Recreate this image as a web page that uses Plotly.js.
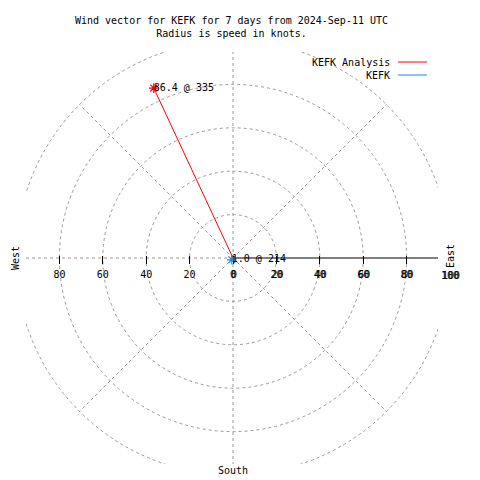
<!DOCTYPE html>
<html><head><meta charset="utf-8">
<script src="https://cdn.plot.ly/plotly-3.0.1.min.js"></script>
<style>html,body{margin:0;padding:0;background:#fff}#chart{width:480px;height:480px}</style>
</head><body><div id="chart"></div>
<script>
// ---- data ----
const seriesNames = ['KEFK Analysis', 'KEFK'];
const speeds = [86.4, 1.0];          // knots
const directions = [335, 214];       // degrees (compass)
const seriesColors = ['#ff0000', '#1e84f0'];
const ringValues = [20, 40, 60, 80, 100];
const spokeAngles = [0, 45, 135, 180, 225, 270, 315];
const axisAngle = 90;
const tickValues = [-80, -60, -40, -20, 0, 20, 40, 60, 80];
const tickLabels = ['80', '60', '40', '20', '0', '20', '40', '60', '80'];
const ghostTickValues = [0, 20, 40, 60, 80];
const ghostTickLabels = ['0', '20', '40', '60', '80'];
const extraTickValue = 100;
const extraTickLabel = '100';
const titleLines = ['Wind vector for KEFK for 7 days from 2024-Sep-11 UTC', 'Radius is speed in knots.'];

// ---- geometry ----
const W = 480, H = 480;
const M = {l: 10, r: 10, t: 20, b: 5};
const PW = W - M.l - M.r, PH = H - M.t - M.b;
const fx = px => (px - M.l) / PW;
const fy = py => (H - M.b - py) / PH;
const CX = 233, CY = 258, SCALE = 2.17, RMAX = 100;
const box = {x0: 26, x1: 438, y0: 52, y1: 464};
const xr = [(box.x0 - CX) / SCALE, (box.x1 - CX) / SCALE];
const yr = [(CY - box.y1) / SCALE, (CY - box.y0) / SCALE];
const R = RMAX * SCALE;
const FONT = 'DejaVu Sans Mono';
const GRID = '#999999';
const DASH = '3px,3px';

const traces = [];
// cartesian anchors (no visible mark)
traces.push({type: 'scatter', x: [null], y: [null], mode: 'markers', hoverinfo: 'skip', showlegend: false});
traces.push({type: 'scatter', x: [null], y: [null], xaxis: 'x2', mode: 'markers', hoverinfo: 'skip', showlegend: false});

seriesNames.forEach((name, i) => {
  traces.push({
    type: 'scatterpolar', name: name, mode: 'lines',
    r: [0, speeds[i]], theta: [directions[i], directions[i]],
    line: {color: seriesColors[i], width: 1}, showlegend: false, hoverinfo: 'skip'
  });
  traces.push({
    type: 'scatterpolar', name: name, mode: 'markers',
    r: [speeds[i]], theta: [directions[i]],
    marker: {symbol: 'asterisk-open', size: 8, color: seriesColors[i], line: {color: seriesColors[i], width: 1.2}},
    showlegend: false, hoverinfo: 'skip'
  });
  traces.push({
    type: 'scatterpolar', name: name, mode: 'text',
    r: [speeds[i]], theta: [directions[i]],
    text: [speeds[i].toFixed(1) + ' @ ' + directions[i]],
    textposition: 'middle right',
    textfont: {family: FONT, size: 10, color: '#000'},
    showlegend: false, hoverinfo: 'skip', cliponaxis: false
  });
});

const shapes = [];
ringValues.forEach(r => shapes.push({
  type: 'circle', xref: 'x', yref: 'y', x0: -r, x1: r, y0: -r, y1: r,
  line: {color: GRID, width: 1, dash: DASH}, layer: 'below'
}));
spokeAngles.forEach(a => {
  const t = a * Math.PI / 180;
  shapes.push({
    type: 'line', xref: 'x', yref: 'y', x0: 0, y0: 0,
    x1: RMAX * Math.sin(t), y1: RMAX * Math.cos(t),
    line: {color: GRID, width: 1, dash: DASH}, layer: 'below'
  });
});
{
  const t = axisAngle * Math.PI / 180;
  shapes.push({
    type: 'line', xref: 'x', yref: 'y', x0: 0, y0: 0,
    x1: RMAX * Math.sin(t), y1: RMAX * Math.cos(t),
    line: {color: '#000', width: 1}, layer: 'below'
  });
}
// legend lines
const legendY = [62, 75];
seriesNames.forEach((n, i) => shapes.push({
  type: 'line', xref: 'paper', yref: 'paper',
  x0: fx(398), x1: fx(427), y0: fy(legendY[i]), y1: fy(legendY[i]),
  line: {color: seriesColors[i], width: 1}
}));

const annotations = [];
const txt = (text, x, y, opts) => annotations.push(Object.assign({
  text: text, xref: 'paper', yref: 'paper', x: x, y: y, showarrow: false,
  xanchor: 'center', yanchor: 'middle', font: {family: FONT, size: 10, color: '#000'}
}, opts || {}));
seriesNames.forEach((n, i) => txt(n, fx(392), fy(legendY[i]), {xanchor: 'right'}));
txt('West', fx(15), fy(258), {textangle: -90});
txt('East', fx(451), fy(256), {textangle: -90});
txt('South', fx(233), fy(470));
txt(extraTickLabel, fx(CX + extraTickValue * SCALE), fy(275));
txt(extraTickLabel, fx(CX + extraTickValue * SCALE) + 1 / PW, fy(275));

const tickAxis = {
  range: xr, anchor: 'free', position: fy(255),
  showgrid: false, zeroline: false, showline: false,
  ticks: 'outside', ticklen: 8, tickwidth: 1, tickcolor: '#000',
  tickmode: 'array', tickvals: tickValues, ticktext: tickLabels,
  tickfont: {family: FONT, size: 10, color: '#000'},
  ticklabelstandoff: 2, fixedrange: true
};

const layout = {
  width: W, height: H, margin: M,
  paper_bgcolor: '#fff', plot_bgcolor: 'rgba(0,0,0,0)',
  showlegend: false,
  title: {
    text: titleLines.join('<br>'), font: {family: FONT, size: 10, color: '#000'},
    xref: 'container', yref: 'container', x: 231.5 / W, xanchor: 'center',
    y: 1 - 24 / H, yanchor: 'top'
  },
  xaxis: Object.assign({domain: [fx(box.x0), fx(box.x1)]}, tickAxis),
  xaxis2: Object.assign({}, tickAxis, {
    overlaying: 'x', range: [xr[0] - 1 / SCALE, xr[1] - 1 / SCALE],
    tickcolor: 'rgba(0,0,0,0)', tickvals: ghostTickValues, ticktext: ghostTickLabels
  }),
  yaxis: {
    domain: [fy(box.y1), fy(box.y0)], range: yr,
    visible: false, showgrid: false, zeroline: false, fixedrange: true
  },
  polar: {
    domain: {x: [fx(CX - R), fx(CX + R)], y: [fy(CY + R), fy(CY - R)]},
    bgcolor: 'rgba(0,0,0,0)',
    radialaxis: {range: [0, RMAX], visible: false, showgrid: false, showline: false, showticklabels: false, ticks: ''},
    angularaxis: {rotation: 90, direction: 'clockwise', visible: false, showgrid: false, showline: false, showticklabels: false, ticks: ''}
  },
  shapes: shapes,
  annotations: annotations
};

Plotly.newPlot('chart', traces, layout, {staticPlot: true, displayModeBar: false});
</script>
</body></html>
